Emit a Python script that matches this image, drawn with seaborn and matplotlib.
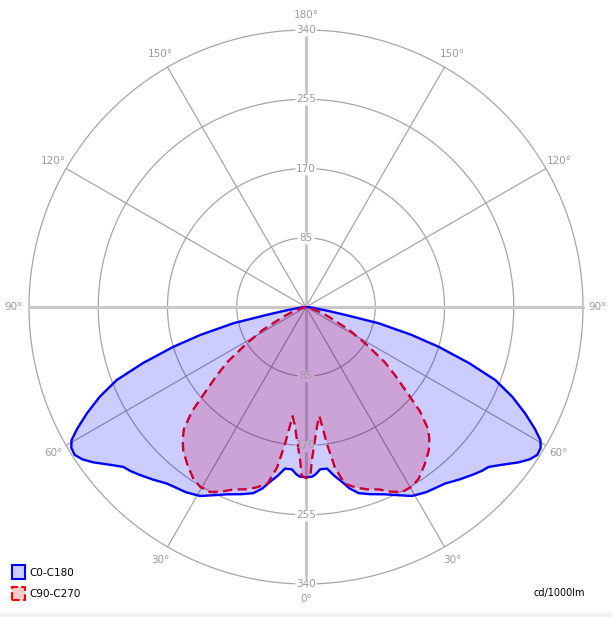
import numpy as np
import matplotlib
matplotlib.use("Agg")
import matplotlib.pyplot as plt
import seaborn as sns
from matplotlib.patches import Patch, Rectangle

# half curves, gamma measured from nadir (0 deg = down); mirrored for the other side
c0_angles = [0, 2, 3.2, 5, 7.4, 9.5, 11.6, 13.5, 15.8, 19, 22.9, 26, 29.3, 33, 38.3,
             41.5, 44.7, 47, 48.8, 51, 53.8, 55.7, 57.4, 59, 60.4, 62, 64.1, 66.5,
             68.9, 71, 73.3, 75.2, 77.4, 78.5, 80, 85, 90]
c0_values = [209, 208.5, 206, 200, 200, 210, 219, 229, 237.5, 243, 249.6, 257, 266, 271, 276,
             283, 290, 295, 298, 308, 323, 332, 337, 336, 331, 318, 299, 276,
             249, 212, 170, 134, 91, 52, 28, 6, 0]

c90_angles = [0, 1.5, 2.2, 4, 5.5, 7, 8.7, 10.2, 12.3, 15.5, 18.5, 21.7, 24.5, 27.5, 30.5,
              33.3, 37, 40.5, 43, 45, 47.5, 50, 52.5, 55, 58.5, 62, 67, 70, 75, 80, 90]
c90_values = [210, 207, 188, 162, 145, 135, 170, 200, 222, 230, 236, 241, 249, 256, 256,
              252, 242, 232, 222, 212, 190, 160, 138, 118, 85, 60, 30, 18, 6, 2, 0]

ring_values = [85, 170, 255, 340]
angle_ticks = [0, 30, 60, 90, 120, 150, 180]
series_names = ["C0-C180", "C90-C270"]
unit_label = "cd/1000lm"

r_max = 340
r_lim = 350
px_per_unit = 277 / r_max
grid_col = "#a6a6a6"
axis_col = "#c8c8c8"
label_col = "#9a9a9a"


def mirror(angles, values):
    a = np.array(angles, dtype=float)
    v = np.array(values, dtype=float)
    full_a = np.concatenate([-a[::-1], a[1:]])
    full_v = np.concatenate([v[::-1], v[1:]])
    return np.deg2rad(full_a), full_v


sns.set_style("white")
plt.rcParams["font.family"] = ["DejaVu Sans"]

fig = plt.figure(figsize=(6.12, 6.17), dpi=100)
fig.patches.append(Rectangle((0, 0), 1, 4 / 617, transform=fig.transFigure,
                             color="#f2f2f2", zorder=0))
half = r_lim * px_per_unit
cx, cy = 306, 617 - 307
ax = fig.add_axes([(cx - half) / 612, (cy - half) / 617, 2 * half / 612, 2 * half / 617],
                  projection="polar")
ax.set_theta_zero_location("S")
ax.set_theta_direction(1)
ax.set_ylim(0, r_lim)
ax.axis("off")

# rings with a gap where the value labels sit (top and bottom)
for v in ring_values:
    half_px = 9 if v < 100 else 11
    g = half_px / (v * px_per_unit)
    for a0, a1 in [(g, np.pi - g), (np.pi + g, 2 * np.pi - g)]:
        t = np.linspace(a0, a1, 300)
        ax.plot(t, np.full_like(t, v), color=grid_col, lw=0.9, zorder=1)

# radial spokes
for a in [30, 60, 120, 150]:
    for s in (1, -1):
        ax.plot([np.deg2rad(s * a)] * 2, [0, r_max], color=grid_col, lw=0.9, zorder=1)
for s in (1, -1):
    ax.plot([np.deg2rad(s * 90)] * 2, [0, r_max], color=axis_col, lw=2.2, zorder=1)
# vertical axis, broken at the labels
gap = 7 / px_per_unit
edges = [0] + ring_values
for a in (0, np.pi):
    for lo, hi in zip(edges[:-1], edges[1:]):
        ax.plot([a, a], [lo + (gap if lo else 0), hi - gap], color=axis_col, lw=2.2, zorder=1)

# curves
for (angs, vals), line_col, fill_col, dashed in [
    ((c0_angles, c0_values), "#0000ff", (0, 0, 1, 0.2), False),
    ((c90_angles, c90_values), "#cc0033", (0.8, 0, 0.2, 0.2), True),
]:
    th, r = mirror(angs, vals)
    ax.fill(th, r, color=fill_col, lw=0, zorder=2)
    sns.lineplot(x=th, y=r, sort=False, estimator=None, ax=ax, color=line_col,
                 lw=1.7, zorder=3)
    if dashed:
        ax.lines[-1].set_dashes([4, 2.2])

# labels
for v in ring_values:
    for a in (0, np.pi):
        ax.text(a, v, str(v), color=label_col, fontsize=7.5, ha="center",
                va="center", zorder=4)
lab_r = 292 / px_per_unit
for a in angle_ticks:
    sides = (1,) if a in (0, 180) else (1, -1)
    for s in sides:
        ax.text(np.deg2rad(s * a), lab_r, f"{a}°", color=label_col, fontsize=7.5,
                ha="center", va="center", zorder=4)

handles = [
    Patch(facecolor=(0, 0, 1, 0.2), edgecolor="#0000ff", lw=1.5, label=series_names[0]),
    Patch(facecolor=(1, 0, 0, 0.2), edgecolor="#ff0000", lw=1.5, linestyle="--",
          label=series_names[1]),
]
fig.legend(handles=handles, loc="lower left", bbox_to_anchor=(12 / 612, 17 / 617),
           frameon=False, fontsize=7.5, labelcolor="black", handlelength=1.25,
           handleheight=1.6, handletextpad=0.4, labelspacing=0.75, borderpad=0,
           borderaxespad=0)

fig.text(559 / 612, 1 - 593 / 617, unit_label, fontsize=7, ha="center", va="center",
         color="black")

fig.savefig("out.png", dpi=100)
